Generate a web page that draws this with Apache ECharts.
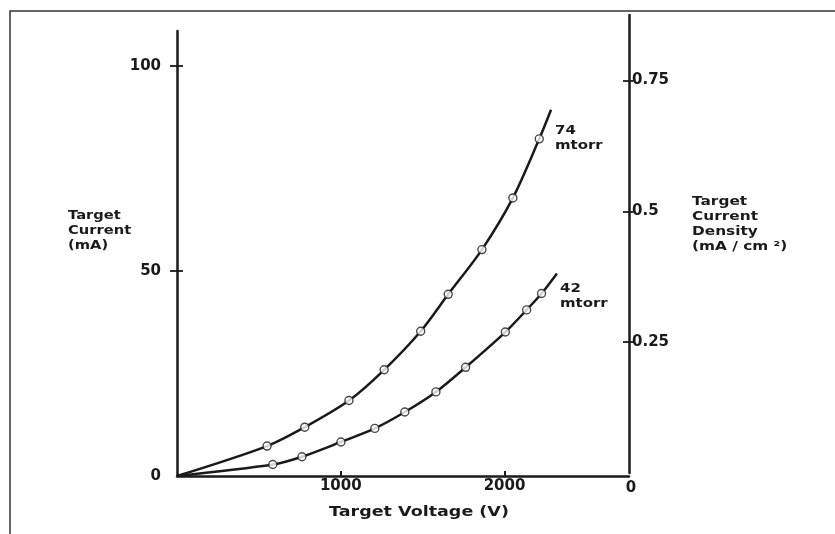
<!DOCTYPE html>
<html>
<head>
<meta charset="utf-8">
<script src="https://cdn.jsdelivr.net/npm/echarts@6/dist/echarts.min.js"></script>
<style>
html,body{margin:0;padding:0;background:#fff;}
#chart{width:835px;height:534px;}
</style>
</head>
<body>
<div id="chart"></div>
<script>
// Target voltage (V) / target current (mA)
const volt74 = [550, 780, 1050, 1265, 1488, 1656, 1862, 2051, 2212];
const curr74 = [7.3, 11.9, 18.4, 25.9, 35.3, 44.3, 55.2, 67.8, 82.2];
const curve74Start = [0, 0];
const curve74End = [2284, 89.3];

const volt42 = [585, 763, 1001, 1208, 1391, 1581, 1762, 2005, 2135, 2226];
const curr42 = [2.8, 4.7, 8.3, 11.6, 15.6, 20.5, 26.5, 35.1, 40.5, 44.5];
const curve42Start = [0, 0];
const curve42End = [2320, 49.4];

const xTicks = [1000, 2000];
const leftTicks = [0, 50, 100];
const rightTicks = [0.25, 0.5, 0.75];

const pts74 = volt74.map((v, i) => [v, curr74[i]]);
const pts42 = volt42.map((v, i) => [v, curr42[i]]);

const FONT = 'DejaVu Sans';
const INK = '#1a1a1a';
const tickTxt = {fontFamily: FONT, fontSize: 15, fontWeight: 'bold', color: INK};
const labelFont = 'bold 13px "DejaVu Sans"';

const chart = echarts.init(document.getElementById('chart'), null, {renderer: 'canvas'});

const gridMain = {left: 177, right: 206, top: 31, bottom: 58};
const gridRight = {left: 177, right: 206, top: 15, bottom: 61};

const option = {
  backgroundColor: '#ffffff',
  animation: false,
  grid: [gridMain, gridRight, {...gridMain}, {...gridRight}],
  xAxis: [
    {
      type: 'value', gridIndex: 0, min: 0, max: 2760, interval: 1000,
      axisLine: {show: true, onZero: false, lineStyle: {color: INK, width: 2.5}},
      axisTick: {show: true, inside: true, length: 5, customValues: xTicks, lineStyle: {color: INK, width: 2}},
      axisLabel: {customValues: xTicks, margin: 3, formatter: v => String(v), ...tickTxt},
      splitLine: {show: false}
    },
    {type: 'value', gridIndex: 1, min: 0, max: 2760, show: false},
    {type: 'value', gridIndex: 2, min: 0, max: 2760, show: false},
    {type: 'value', gridIndex: 3, min: 0, max: 2760, show: false}
  ],
  yAxis: [
    {
      type: 'value', gridIndex: 0, position: 'left', min: 0, max: 108.5, interval: 50,
      axisLine: {show: true, onZero: false, lineStyle: {color: INK, width: 2.5}},
      axisTick: {show: true, length: 7, customValues: leftTicks.slice(1), lineStyle: {color: INK, width: 1.8}},
      axisLabel: {customValues: leftTicks, margin: 16, ...tickTxt},
      splitLine: {show: false}
    },
    {
      type: 'value', gridIndex: 1, position: 'right', min: 0, max: 0.875, interval: 0.25,
      axisLine: {show: true, onZero: false, lineStyle: {color: INK, width: 2.5}},
      axisTick: {show: true, length: 4, customValues: rightTicks, lineStyle: {color: INK, width: 1.8}},
      axisLabel: {customValues: rightTicks, margin: 3, ...tickTxt},
      splitLine: {show: false}
    },
    {
      type: 'value', gridIndex: 2, position: 'left', offset: -6, min: 0, max: 108.5, interval: 50,
      axisLine: {show: false},
      axisTick: {show: true, length: 6, customValues: leftTicks.slice(1), lineStyle: {color: INK, width: 1.8}},
      axisLabel: {show: false},
      splitLine: {show: false}
    },
    {
      type: 'value', gridIndex: 3, position: 'left', offset: -452, min: 0, max: 0.875, interval: 0.25,
      axisLine: {show: false},
      axisTick: {show: true, length: 6, customValues: rightTicks, lineStyle: {color: INK, width: 1.8}},
      axisLabel: {show: false},
      splitLine: {show: false}
    }
  ],
  series: [
    {
      name: '74 mtorr curve', type: 'line', xAxisIndex: 0, yAxisIndex: 0,
      data: [curve74Start, ...pts74, curve74End],
      smooth: 0.3, symbol: 'none',
      lineStyle: {color: INK, width: 2.5}, z: 3
    },
    {
      name: '42 mtorr curve', type: 'line', xAxisIndex: 0, yAxisIndex: 0,
      data: [curve42Start, ...pts42, curve42End],
      smooth: 0.3, symbol: 'none',
      lineStyle: {color: INK, width: 2.5}, z: 3
    },
    {
      name: '74 mtorr', type: 'scatter', xAxisIndex: 0, yAxisIndex: 0,
      data: pts74, symbol: 'circle', symbolSize: 8,
      itemStyle: {color: '#ffffff', borderColor: INK, borderWidth: 1.4}, z: 5
    },
    {
      name: '42 mtorr', type: 'scatter', xAxisIndex: 0, yAxisIndex: 0,
      data: pts42, symbol: 'circle', symbolSize: 8,
      itemStyle: {color: '#ffffff', borderColor: INK, borderWidth: 1.4}, z: 5
    }
  ],
  graphic: [
    {type: 'rect', shape: {x: 10, y: 11, width: 900, height: 600},
     style: {fill: 'none', stroke: '#333', lineWidth: 1.5}, silent: true},
    {type: 'text', x: 68, y: 208, scaleX: 1.13,
     style: {text: 'Target\nCurrent\n(mA)', font: labelFont, fill: INK, lineHeight: 15, textVerticalAlign: 'top'}},
    {type: 'text', x: 692, y: 194, scaleX: 1.18,
     style: {text: 'Target\nCurrent\nDensity\n(mA / cm ²)', font: labelFont, fill: INK, lineHeight: 15, textVerticalAlign: 'top'}},
    {type: 'text', x: 555, y: 123, scaleX: 1.15,
     style: {text: '74\nmtorr', font: labelFont, fill: INK, lineHeight: 15, textVerticalAlign: 'top'}},
    {type: 'text', x: 560, y: 281, scaleX: 1.15,
     style: {text: '42\nmtorr', font: labelFont, fill: INK, lineHeight: 15, textVerticalAlign: 'top'}},
    {type: 'text', x: 419, y: 505, scaleX: 1.25,
     style: {text: 'Target Voltage (V)', font: 'bold 14px "DejaVu Sans"', fill: INK, textAlign: 'center', textVerticalAlign: 'top'}},
    {type: 'text', x: 631, y: 481,
     style: {text: '0', font: 'bold 15px "DejaVu Sans"', fill: INK, textAlign: 'center', textVerticalAlign: 'top'}}
  ]
};
chart.setOption(option);
</script>
</body>
</html>
